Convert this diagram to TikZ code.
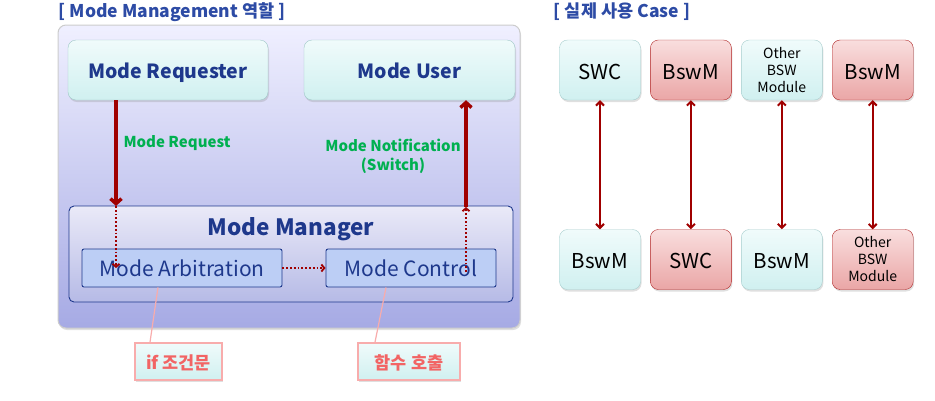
\documentclass[tikz,border=0pt]{standalone}
\usepackage{fontspec}
\setmainfont{Noto Sans CJK KR}
\usetikzlibrary{arrows.meta,chains,shadows,positioning}
\definecolor{navy}{RGB}{30,56,140}
\definecolor{titleblue}{RGB}{45,75,165}
\definecolor{arrowred}{RGB}{160,0,0}
\definecolor{notegreen}{RGB}{0,176,80}
\definecolor{pinkline}{RGB}{248,172,172}
\definecolor{salmon}{RGB}{242,100,100}
\definecolor{cyantop}{RGB}{240,251,251}
\definecolor{cyanbot}{RGB}{208,240,240}
\definecolor{redtop}{RGB}{249,222,222}
\definecolor{redbot}{RGB}{234,166,166}
\tikzset{
  soft/.style={drop shadow={opacity=0.25, shadow xshift=1pt, shadow yshift=-2pt}},
  capcenter/.style={text height=#1, text depth=0pt},
  panel/.style={soft, draw=gray!40, line width=1pt, rounded corners=8pt, top color=blue!6, bottom color={rgb,255:red,166;green,170;blue,228}, minimum width=462pt, minimum height=303pt},
  rolebox/.style={soft, capcenter=17pt, draw={rgb,255:red,160;green,200;blue,200}, rounded corners=8pt, top color=cyantop, bottom color=cyanbot, text=navy, font=\fontsize{19.5}{22}\selectfont\bfseries, minimum height=60pt},
  mgrbox/.style={draw=navy, line width=0.9pt, rounded corners=5pt, top color={rgb,255:red,234;green,234;blue,248}, bottom color={rgb,255:red,182;green,186;blue,230}, minimum width=444pt, minimum height=96pt},
  subbox/.style={capcenter=17pt, draw=navy, line width=0.9pt, rounded corners=2pt, fill={rgb,255:red,188;green,206;blue,245}, text=navy, font=\fontsize{21}{24}\selectfont, minimum height=38pt},
  notebox/.style={soft, capcenter=16pt, draw=pinkline, line width=1.5pt, top color=cyantop, bottom color=cyanbot, text=salmon, font=\fontsize{17.5}{20}\selectfont\bfseries, minimum width=#1, minimum height=37pt},
  usebox/.style={soft, rounded corners=8pt, minimum width=81pt, minimum height=60pt, font=\fontsize{20.5}{23}\selectfont, align=center},
  cyanuse/.style={usebox, draw={rgb,255:red,168;green,206;blue,206}, top color=cyantop, bottom color=cyanbot},
  reduse/.style={usebox, draw={rgb,255:red,176;green,40;blue,40}, top color=redtop, bottom color=redbot},
  small/.style={font=\fontsize{14}{17}\selectfont},
  bigarrow/.style={arrowred, line width=3.5pt, -{Straight Barb[length=5pt,width=11pt]}},
  dotarrow/.style={arrowred, line width=1.8pt, dotted, -{Straight Barb[length=3pt,width=7pt]}},
  duoarrow/.style={arrowred, line width=2pt, {Straight Barb[length=4pt,width=8pt]}-{Straight Barb[length=4pt,width=8pt]}},
  greenlabel/.style={text=notegreen, font=\fontsize{15}{19}\selectfont\bfseries, align=center},
  title/.style={text=titleblue, font=\fontsize{17.5}{20}\selectfont\bfseries}
}

\begin{document}
\begin{tikzpicture}[x=1pt, y=-1pt]
  \useasboundingbox (0,0) rectangle (935,400);
  % left part
  \node[title] (lefttitle) at (172,12) {[ Mode Management 역할 ]};
  \node[panel] (frame) at (289,176.5) {};
  \node[rolebox, minimum width=200pt] (req) at (168,70) {Mode Requester};
  \node[rolebox, minimum width=211pt] (user) at (409.5,70) {Mode User};
  \node[mgrbox] (mgr) at (291,254) {};
  \node[text=navy, font=\fontsize{22.5}{26}\selectfont\bfseries] (mgrname) at (291,229) {Mode Manager};
  \node[subbox, minimum width=200pt] (arb) at (182,268) {Mode Arbitration};
  \node[subbox, minimum width=170pt] (ctl) at (411,268) {Mode Control};
  \coordinate (reqend) at (116,206);
  \coordinate (notestart) at (466,207);
  \draw[bigarrow] (req.south -| reqend) -- (reqend);
  \draw[dotarrow] (reqend) -- (reqend |- arb.center);
  \draw[dotarrow] (arb.east) -- (ctl.west);
  \draw[dotarrow] ([yshift=-4pt]notestart |- ctl.center) -- (notestart);
  \draw[bigarrow] (notestart) -- (notestart |- user.south);
  \node[greenlabel] (reqlabel) at (177,143) {Mode Request};
  \node[greenlabel] (notelabel) at (393,156) {Mode Notification\\(Switch)};
  % notes
  \node[notebox=87pt] (ifnote) at (178.5,361.5) {if 조건문};
  \node[notebox=102pt] (callnote) at (409,361.5) {함수 호출};
  \draw[pinkline, line width=1.2pt] ([xshift=-24pt]arb.south) -- ([xshift=-28.5pt]ifnote.north);
  \draw[pinkline, line width=1.2pt] ([xshift=-25pt]ctl.south) -- ([xshift=-34pt]callnote.north);
  % right part
  \node[title] (righttitle) at (622,12) {[ 실제 사용 Case ]};
  \begin{scope}[start chain=top going right, node distance=9.5pt]
    \node[cyanuse, capcenter=18pt, on chain] (t1) at (600,70) {SWC};
    \node[reduse, capcenter=18pt, on chain] (t2) {BswM};
    \node[cyanuse, on chain, small] (t3) {Other\\BSW\\Module};
    \node[reduse, capcenter=18pt, on chain] (t4) {BswM};
  \end{scope}
  \begin{scope}[start chain=bottom going right, node distance=9.5pt]
    \node[cyanuse, capcenter=18pt, on chain] (b1) at (600,259.5) {BswM};
    \node[reduse, capcenter=18pt, on chain] (b2) {SWC};
    \node[cyanuse, capcenter=18pt, on chain] (b3) {BswM};
    \node[reduse, on chain, small] (b4) {Other\\BSW\\Module};
  \end{scope}
  \foreach \i in {1,...,4}
    \draw[duoarrow] (t\i.south) -- (b\i.north);
\end{tikzpicture}
\end{document}
